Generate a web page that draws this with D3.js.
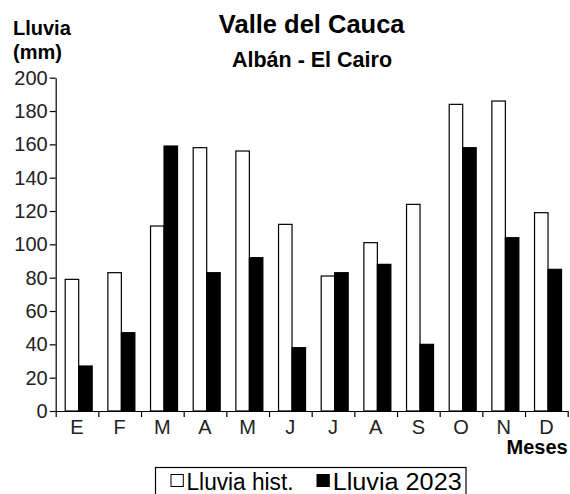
<!DOCTYPE html>
<html>
<head>
<meta charset="utf-8">
<script src="https://cdn.jsdelivr.net/npm/d3@7"></script>
<style>
  body { margin: 0; background: #fff; }
  svg { display: block; font-family: "Liberation Sans", Arial, sans-serif; }
</style>
</head>
<body>
<svg id="chart" width="570" height="494"></svg>
<script>
// Monthly rainfall (mm): historical average vs. 2023
const months = ["E", "F", "M", "A", "M2", "J", "J2", "A2", "S", "O", "N", "D"];
const monthLabels = ["E", "F", "M", "A", "M", "J", "J", "A", "S", "O", "N", "D"];
const seriesNames = ["Lluvia hist.", "Lluvia 2023"];
const lluviaHist = [79, 83, 111, 158, 156, 112, 81, 101, 124, 184, 186, 119];
const lluvia2023 = [27, 47, 159, 83, 92, 38, 83, 88, 40, 158, 104, 85];
const yTicks = [0, 20, 40, 60, 80, 100, 120, 140, 160, 180, 200];

const svg = d3.select("#chart");
const plotLeft = 55.7, plotRight = 567.7, plotTop = 77.7, plotBottom = 411;

const x = d3.scaleBand().domain(months).range([plotLeft, plotRight]).padding(0);
const inner = d3.scaleBand().domain(seriesNames).range([9.5, 36.5]).padding(0);
const y = d3.scaleLinear().domain([0, 200]).range([plotBottom, plotTop]);
const boundaries = d3.scaleLinear().domain([0, 12]).range([plotLeft, plotRight]);

const rows = months.map((m, i) => ({ m, values: [lluviaHist[i], lluvia2023[i]] }));
const fills = ["#fff", "#000"];

// bars
const groups = svg.append("g").selectAll("g")
  .data(rows).join("g")
  .attr("transform", d => `translate(${x(d.m)},0)`);
groups.selectAll("rect")
  .data(d => d.values.map((v, k) => ({ v, k })))
  .join("rect")
  .attr("x", d => inner(seriesNames[d.k]))
  .attr("width", inner.bandwidth())
  .attr("y", d => y(d.v))
  .attr("height", d => y(0) - y(d.v))
  .attr("fill", d => fills[d.k])
  .attr("stroke", "#000")
  .attr("stroke-width", 1.2);

// y axis
const yAxis = svg.append("g")
  .attr("transform", `translate(${plotLeft},0)`)
  .call(d3.axisLeft(y).tickValues(yTicks).tickSize(6).tickSizeOuter(0).tickPadding(2));
yAxis.selectAll("text").attr("font-size", 20).attr("fill", "#222")
  .attr("font-family", "Liberation Sans, Arial, sans-serif");
yAxis.select(".domain").attr("stroke-width", 1.2);
yAxis.selectAll(".tick line").attr("stroke-width", 1.2);

// x axis: month separators pointing down
const xAxis = svg.append("g")
  .attr("transform", `translate(0,${plotBottom})`)
  .call(d3.axisBottom(boundaries).tickValues(d3.range(13)).tickFormat("").tickSize(6).tickSizeOuter(0));
xAxis.select(".domain").attr("stroke-width", 1.2);
xAxis.selectAll(".tick line").attr("stroke-width", 1.2);

// month labels at band centres
const xLabels = svg.append("g")
  .attr("transform", `translate(0,${plotBottom})`)
  .call(d3.axisBottom(x).tickSize(0).tickPadding(9).tickFormat((d, i) => monthLabels[i]));
xLabels.select(".domain").remove();
xLabels.selectAll("text").attr("font-size", 20).attr("fill", "#222")
  .attr("font-family", "Liberation Sans, Arial, sans-serif");

// titles
svg.append("text").attr("x", 311.7).attr("y", 33).attr("text-anchor", "middle")
  .attr("font-size", 25.5).attr("font-weight", "bold").text("Valle del Cauca");
svg.append("text").attr("x", 312).attr("y", 67).attr("text-anchor", "middle")
  .attr("font-size", 21.5).attr("font-weight", "bold").text("Albán - El Cairo");

// axis titles
svg.append("text").attr("x", 13).attr("y", 35)
  .attr("font-size", 20).attr("font-weight", "bold").text("Lluvia");
svg.append("text").attr("x", 13).attr("y", 59)
  .attr("font-size", 20).attr("font-weight", "bold").text("(mm)");
svg.append("text").attr("x", 567.7).attr("y", 454).attr("text-anchor", "end")
  .attr("font-size", 20).attr("font-weight", "bold").text("Meses");

// legend
const legend = svg.append("g");
legend.append("rect").attr("x", 155.5).attr("y", 467.5).attr("width", 310.5).attr("height", 32)
  .attr("fill", "#fff").attr("stroke", "#000").attr("stroke-width", 1.2);
const legendItems = [
  { name: seriesNames[0], fill: fills[0], sx: 171, tx: 186.5, len: 107 },
  { name: seriesNames[1], fill: fills[1], sx: 317, tx: 332.7, len: 129 }
];
legend.selectAll("rect.sw").data(legendItems).join("rect").attr("class", "sw")
  .attr("x", d => d.sx).attr("y", 474.5).attr("width", 12.3).attr("height", 12)
  .attr("fill", d => d.fill).attr("stroke", "#000").attr("stroke-width", 1);
legend.selectAll("text").data(legendItems).join("text")
  .attr("x", d => d.tx).attr("y", 489.5)
  .attr("font-size", 23).attr("fill", "#000")
  .attr("textLength", d => d.len).attr("lengthAdjust", "spacingAndGlyphs")
  .text(d => d.name);
</script>
</body>
</html>
